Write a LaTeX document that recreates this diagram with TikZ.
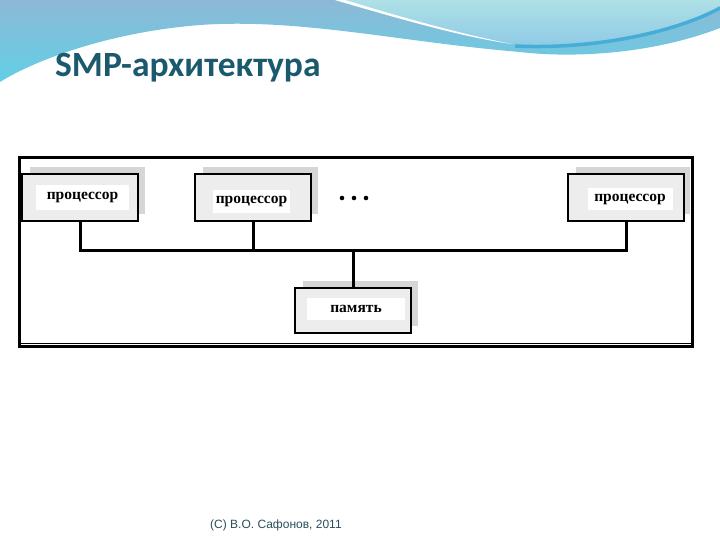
\documentclass[tikz,border=0pt]{standalone}
\usepackage{fontspec}
\setmainfont{Liberation Serif}
\newfontfamily\titlefont{Carlito}
\newfontfamily\footfont{Liberation Sans}
\usetikzlibrary{calc}
\definecolor{titleteal}{HTML}{1B5A6E}
\definecolor{footteal}{HTML}{2C4E5A}
\definecolor{wavetop}{HTML}{8DB9D6}
\definecolor{wavebot}{HTML}{62CFE6}
\definecolor{palea}{HTML}{AEE0E6}
\definecolor{paleb}{HTML}{8CC8E6}
\definecolor{darkline}{HTML}{46AED6}
\tikzset{
  box/.style={draw=black, line width=2.5pt, fill=gray!14, minimum width=116pt, minimum height=47pt, inner sep=0pt},
  lab/.style={fill=white, inner sep=0pt, font=\bfseries\fontsize{15.5}{15.5}\selectfont},
  shadowbox/.style={fill=gray!32},
  wire/.style={line width=3pt, line cap=rect}
}
\begin{document}
\begin{tikzpicture}[x=1pt,y=-1pt]
\useasboundingbox (0,0) rectangle (720,540);
\fill[white] (0,0) rectangle (720,540);
% top wave
\shade[top color=wavetop, bottom color=wavebot]
  (0,0) -- (720,0) -- (720,28) .. controls (650,55) and (570,58) .. (520,52)
  .. controls (400,42) and (300,18) .. (200,25)
  .. controls (110,32) and (35,60) .. (0,82) -- cycle;
\shade[top color=palea, bottom color=paleb]
  (335,0) .. controls (420,25) and (470,38) .. (510,44)
  .. controls (600,50) and (680,30) .. (720,6) -- (720,0) -- cycle;
\fill[white] (335,0) .. controls (420,25) and (470,38) .. (512,44)
  .. controls (470,36) and (410,20) .. (345,0) -- cycle;
\draw[darkline, line width=3.5pt] (515,46) .. controls (600,50) and (680,30) .. (720,8);
% title
\node[anchor=base west, inner sep=0pt, text=titleteal, font=\titlefont\bfseries\fontsize{35.5}{35.5}\selectfont] (title) at (55,77) {SMP-архитектура};
% frame
\draw[line width=3pt] (19,158) rectangle (692,346);
\draw[line width=1pt] (19,343) -- (692,343);
% shadows
\fill[shadowbox] (30,167) rectangle (145,214);
\fill[shadowbox] (203,167) rectangle (318,214);
\fill[shadowbox] (576,167) rectangle (690,214);
\fill[shadowbox] (303,281) rectangle (418,326);
% boxes
\node[box] (p1) at (80,197.5) {};
\node[box] (p2) at (253,197.5) {};
\node[box] (p3) at (626,197.5) {};
\node[box, minimum height=45pt] (m) at (353,310.5) {};
% labels
\node[lab, minimum width=93pt, minimum height=25pt] (l1) at (82.5,197.5) {процессор};
\node[lab, minimum width=77pt, minimum height=23pt] (l2) at (251.5,201.5) {процессор};
\node[lab, minimum width=85pt, minimum height=22pt] (l3) at (630,199) {процессор};
\node[lab, minimum width=98pt, minimum height=22pt] (lm) at (356,309) {память};
% dots
\foreach \x/\n in {342/d1,354/d2,366/d3} \fill (\x,198) circle (2.3pt);
% bus
\coordinate (bus) at (0,250);
\draw[wire] (p1.south) -- (p1.south |- bus) -- (p3.south |- bus) -- (p3.south);
\draw[wire] (p2.south) -- (p2.south |- bus);
\draw[wire] (m.north) -- (m.north |- bus);
% footer
\node[anchor=base west, inner sep=0pt, text=footteal, font=\footfont\fontsize{12}{12}\selectfont] (foot) at (210,528) {(C) В.О. Сафонов, 2011};
\end{tikzpicture}
\end{document}
